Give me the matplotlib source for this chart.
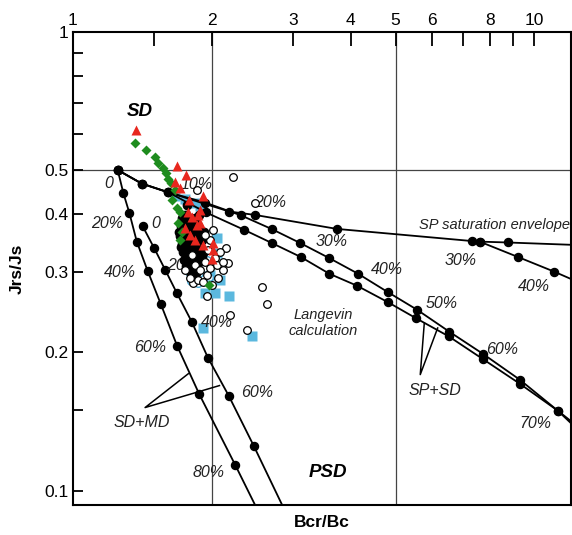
import matplotlib
matplotlib.use("Agg")
import matplotlib.pyplot as plt

plt.rcParams['font.family'] = ['Liberation Sans', 'DejaVu Sans']

# ---- model curves (Bcr/Bc, Jrs/Js) ----
# SD+MD mixing curves, 0 %, 10 %, 20 % ... MD
sdmd1_x = [1.25, 1.286, 1.325, 1.375, 1.452, 1.55, 1.681, 1.879, 2.249, 2.74]
sdmd1_y = [0.50, 0.445, 0.403, 0.349, 0.301, 0.255, 0.207, 0.162, 0.1135, 0.076]
sdmd2_x = [1.416, 1.499, 1.584, 1.681, 1.81, 1.96, 2.175, 2.466, 2.90]
sdmd2_y = [0.377, 0.338, 0.303, 0.269, 0.233, 0.195, 0.161, 0.125, 0.089]

# SP saturation envelope
env_x = [1.25, 1.41, 1.609, 2.18, 2.482, 3.733, 7.326, 7.609, 8.752, 12.0]
env_y = [0.50, 0.467, 0.447, 0.406, 0.399, 0.372, 0.350, 0.349, 0.3475, 0.3435]

# SP+SD mixing curves
spsd1_x = [1.25, 1.41, 1.609, 1.933, 2.315, 2.698, 3.108, 3.592, 4.146, 4.807,
           5.567, 6.54, 7.726, 9.293, 11.23, 12.03]
spsd1_y = [0.50, 0.467, 0.447, 0.4247, 0.398, 0.3716, 0.3465, 0.3213, 0.2971, 0.271,
           0.2479, 0.222, 0.1988, 0.1745, 0.1494, 0.1414]
spsd2_x = [1.25, 1.41, 1.609, 1.943, 2.349, 2.698, 3.118, 3.592, 4.125, 4.807,
           5.548, 6.52, 7.726, 9.293, 11.23, 12.03]
spsd2_y = [0.50, 0.467, 0.447, 0.404, 0.3703, 0.3465, 0.323, 0.2971, 0.2797, 0.2577,
           0.2373, 0.2169, 0.1936, 0.171, 0.1494, 0.1399]
spsd3_x = [7.609, 9.218, 11.05, 12.03]
spsd3_y = [0.349, 0.323, 0.300, 0.289]

# ---- measured samples ----
tri_x = [1.370, 1.678, 1.759, 1.664, 1.707, 1.785, 1.911, 1.886, 1.776, 1.862,
         1.812, 1.855, 1.750, 1.886, 1.914, 2.012, 2.000, 2.012, 1.794, 1.839]
tri_y = [0.6115, 0.5105, 0.488, 0.471, 0.457, 0.4305, 0.439, 0.4095, 0.4055, 0.3993,
         0.3955, 0.3798, 0.374, 0.3836, 0.3435, 0.3469, 0.3202, 0.335, 0.3612, 0.3522]

dia_x = [1.363, 1.438, 1.506, 1.531, 1.570, 1.591, 1.609, 1.632, 1.664, 1.638,
         1.681, 1.707, 1.690, 1.723, 1.707, 1.972]
dia_y = [0.574, 0.553, 0.535, 0.5176, 0.505, 0.4937, 0.4776, 0.4688, 0.4527, 0.4305,
         0.4136, 0.4055, 0.3836, 0.3667, 0.3522, 0.2811]

dot_x = [1.750, 1.794, 1.839, 1.733, 1.776, 1.821, 1.867, 1.750, 1.794, 1.839,
         1.886, 1.733, 1.776, 1.821, 1.867, 1.759, 1.803, 1.848, 1.905, 1.707,
         1.886, 1.767, 1.72, 1.80, 1.85, 1.77, 1.82, 1.79,
         1.72, 1.76, 1.80, 1.84, 1.88, 1.71, 1.75, 1.79, 1.83, 1.87,
         1.92, 1.70, 1.74, 1.78, 1.82, 1.86, 1.90, 1.71, 1.75, 1.79,
         1.83, 1.87, 1.91, 1.74, 1.78, 1.82, 1.86, 1.80]
dot_y = [0.3993, 0.3934, 0.3856, 0.3798, 0.374, 0.3649, 0.3595, 0.3522, 0.3435, 0.3385,
         0.335, 0.3318, 0.3235, 0.3186, 0.3139, 0.3092, 0.303, 0.2985, 0.3218, 0.3595,
         0.3703, 0.4199, 0.345, 0.36, 0.345, 0.35, 0.33, 0.315,
         0.392, 0.395, 0.388, 0.392, 0.398, 0.378, 0.382, 0.376, 0.372, 0.378,
         0.366, 0.366, 0.362, 0.358, 0.354, 0.348, 0.352, 0.340, 0.336, 0.338,
         0.328, 0.322, 0.330, 0.318, 0.310, 0.306, 0.310, 0.296]

circ_x = [2.227, 2.482, 1.855, 2.147, 2.172, 1.824, 1.950, 1.950, 2.066, 2.119,
          2.191, 2.381, 2.566, 2.638, 1.839, 1.886, 1.933, 1.983, 2.032, 1.794,
          1.862, 2.000, 1.750, 1.914, 2.054, 1.812, 1.962, 2.084, 2.012, 1.983,
          1.933, 2.119]
circ_y = [0.4839, 0.4247, 0.4527, 0.338, 0.3134, 0.2835, 0.265, 0.2955, 0.2905, 0.303,
          0.2417, 0.2243, 0.2779, 0.2555, 0.3107, 0.303, 0.3154, 0.306, 0.3218, 0.2911,
          0.2882, 0.2811, 0.303, 0.2853, 0.3107, 0.3267, 0.335, 0.3318, 0.3703, 0.3522,
          0.3612, 0.3145]

# circles with light blue rims
bcirc_x = [1.78, 1.83, 1.88, 1.92, 1.76, 1.95, 1.80, 1.87, 1.97]
bcirc_y = [0.300, 0.293, 0.298, 0.305, 0.315, 0.318, 0.287, 0.283, 0.292]

sq_x = [1.917, 2.032, 2.183, 1.933, 2.441, 2.084, 2.05, 2.05, 1.664, 1.75,
        1.839, 1.886, 1.983]
sq_y = [0.2262, 0.2696, 0.266, 0.2696, 0.2177, 0.2882, 0.3553, 0.3296, 0.439, 0.4327,
        0.4241, 0.418, 0.2955]

fig = plt.figure(figsize=(5.72, 5.35), dpi=100)
ax = fig.add_axes([0.1276, 0.0561, 0.8706, 0.8841])
ax.set_xscale('log')
ax.set_yscale('log')
ax.set_xlim(1, 12)
ax.set_ylim(0.093, 1)

for v in (2, 5):
    ax.axvline(v, color='#444444', lw=0.9, zorder=1)
ax.axhline(0.5, color='#444444', lw=0.9, zorder=1)

ax.plot(sq_x, sq_y, 's', color='#5bb8de', ms=7, mec='none', zorder=2)

curve_kw = dict(color='black', lw=1.3, marker='o', ms=5.8, zorder=3)
for cx, cy in [(sdmd1_x, sdmd1_y), (sdmd2_x, sdmd2_y), (env_x[:-1], env_y[:-1]),
               (spsd1_x[:-1], spsd1_y[:-1]), (spsd2_x[:-1], spsd2_y[:-1]),
               (spsd3_x[:-1], spsd3_y[:-1])]:
    ax.plot(cx, cy, **curve_kw)
for cx, cy in [(env_x, env_y), (spsd1_x, spsd1_y), (spsd2_x, spsd2_y), (spsd3_x, spsd3_y)]:
    ax.plot(cx[-2:], cy[-2:], color='black', lw=1.3, zorder=3)

ax.plot(bcirc_x, bcirc_y, 'o', mfc='white', mec='#4aa8d4', mew=1.0, ms=5.5, zorder=4)
ax.plot(dot_x, dot_y, 'o', color='black', ms=6, zorder=4)
ax.plot(circ_x, circ_y, 'o', mfc='white', mec='black', mew=0.9, ms=5.5, zorder=4)
ax.plot(dia_x, dia_y, 'D', color='#1e8c1e', ms=5, mec='none', zorder=5)
ax.plot(tri_x, tri_y, '^', color='#e8271e', ms=7.5, mec='none', zorder=6)

# leader lines
ax.plot([1.778, 1.433, 2.077], [0.1798, 0.1517, 0.1694], color='black', lw=1.1, zorder=3)
ax.plot([5.772, 5.657, 6.17], [0.2319, 0.179, 0.2262], color='black', lw=1.1, zorder=3)

it = dict(style='italic', fontsize=11.5, ha='center', va='center', color='#222222')
for s, x, y in [('0', 1.193, 0.4666), ('20%', 1.183, 0.382), ('40%', 1.265, 0.2989),
                ('60%', 1.469, 0.2046), ('80%', 1.966, 0.1093),
                ('0', 1.514, 0.383), ('20%', 1.732, 0.309), ('40%', 2.05, 0.2327),
                ('60%', 2.503, 0.1635),
                ('10%', 1.855, 0.464), ('20%', 2.675, 0.4247),
                ('30%', 3.64, 0.349), ('40%', 4.79, 0.303), ('50%', 6.306, 0.2555),
                ('60%', 8.51, 0.2028), ('70%', 10.05, 0.1397),
                ('30%', 6.91, 0.318), ('40%', 9.95, 0.2787)]:
    ax.text(x, y, s, zorder=3.5, **it)

ax.text(1.408, 0.1406, 'SD+MD', **it)
ax.text(6.10, 0.1654, 'SP+SD', **it)
ax.text(3.486, 0.2323, 'Langevin\ncalculation', style='italic', fontsize=10.5,
        ha='center', va='center', color='#222222', linespacing=1.2)
ax.text(11.95, 0.3798, 'SP saturation envelope', style='italic', fontsize=10.5,
        ha='right', va='center', color='#222222')
ax.text(1.397, 0.671, 'SD', style='italic', weight='bold', fontsize=13.5,
        ha='center', va='center')
ax.text(3.574, 0.1095, 'PSD', style='italic', weight='bold', fontsize=13.5,
        ha='center', va='center')

ax.xaxis.tick_top()
ax.set_xticks([1, 1.5, 2, 3, 4, 5, 6, 7, 8, 9, 10])
ax.set_xticklabels(['1', '', '2', '3', '4', '5', '6', '', '8', '', '10'])
ax.set_yticks([0.1, 0.15, 0.2, 0.3, 0.4, 0.5, 0.6, 0.7, 0.8, 0.9, 1])
ax.set_yticklabels(['0.1', '', '0.2', '0.3', '0.4', '0.5', '', '', '', '', '1'])
ax.minorticks_off()
ax.tick_params(axis='x', direction='in', length=10, width=1.3, labelsize=12.5, pad=3)
ax.tick_params(axis='y', direction='in', length=7, width=1.3, labelsize=12.5, pad=3)
for sp in ax.spines.values():
    sp.set_linewidth(1.5)

ax.set_xlabel('Bcr/Bc', fontsize=12.5, weight='bold', labelpad=7)
ax.xaxis.set_label_position('bottom')
ax.set_ylabel('Jrs/Js', fontsize=12.5, weight='bold', labelpad=14)

fig.savefig('out.png', dpi=100)
